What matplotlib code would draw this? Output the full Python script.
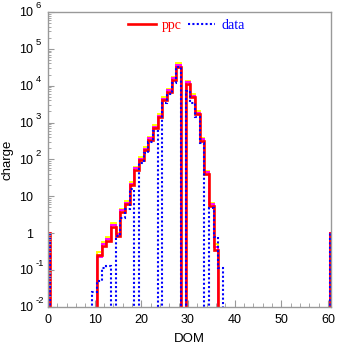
import numpy as np
import matplotlib
matplotlib.use("Agg")
import matplotlib.pyplot as plt

# DOM bins 0..61 (bins centered on integers)
dom = np.arange(0, 62)

ppc = np.zeros(62)
ppc_vals = {0: 1, 11: 0.25, 12: 0.44, 13: 0.62, 14: 1.5, 15: 0.83, 16: 3.8, 17: 6.0,
            18: 20, 19: 52, 20: 95, 21: 180, 22: 340, 23: 700, 24: 1400, 25: 4000,
            26: 6800, 27: 14500, 28: 33000, 30: 11200, 31: 4900, 32: 1700, 33: 320,
            34: 40, 35: 5.5, 36: 0.35, 61: 1}
for k, v in ppc_vals.items():
    ppc[k] = v

ppc_y = np.zeros(62)   # yellow variant
ppc_y_vals = {0: 1, 11: 0.30, 12: 0.56, 13: 0.76, 14: 1.85, 15: 1.0, 16: 4.6, 17: 7.3,
              18: 24, 19: 63, 20: 115, 21: 218, 22: 410, 23: 850, 24: 1700, 25: 4850,
              26: 8200, 27: 17500, 28: 42000, 30: 13600, 31: 5900, 32: 2050, 33: 390,
              34: 49, 35: 6.7, 36: 0.50, 61: 1}
for k, v in ppc_y_vals.items():
    ppc_y[k] = v

ppc_m = np.zeros(62)   # magenta variant
ppc_m_vals = {0: 1, 11: 0.22, 12: 0.49, 13: 0.68, 14: 1.65, 15: 0.92, 16: 4.1, 17: 6.5,
              18: 22, 19: 57, 20: 103, 21: 195, 22: 370, 23: 760, 24: 1520, 25: 4350,
              26: 7400, 27: 15700, 28: 37000, 30: 12200, 31: 5300, 32: 1850, 33: 350,
              34: 44, 35: 6.0, 36: 0.43, 61: 1}
for k, v in ppc_m_vals.items():
    ppc_m[k] = v

data = np.zeros(62)
data_vals = {0: 1, 10: 0.025, 11: 0.05, 12: 0.11, 13: 0.13, 15: 0.85, 16: 2.5, 17: 4.5,
             18: 16, 20: 80, 21: 150, 22: 300, 23: 600, 25: 3300, 26: 6000, 27: 12000,
             28: 33000, 30: 7200, 31: 3300, 32: 1400, 33: 275, 35: 4.7, 36: 0.8,
             37: 0.11, 61: 1}
for k, v in data_vals.items():
    data[k] = v

edges = np.append(dom - 0.5, dom[-1] + 0.5)
FLOOR = 1e-6

def show(v):
    return np.where(v > 0, v, FLOOR)

W, H = 337, 344
fig = plt.figure(figsize=(W / 100, H / 100), dpi=100)
L, R, T, B = 48, 331, 12, 306.7
ax = fig.add_axes([L / W, 1 - B / H, (R - L) / W, (B - T) / H])

ax.stairs(show(ppc_y), edges, color="#ffff00", lw=1.4, baseline=None)
ax.stairs(show(ppc_m), edges, color="#ff00ff", lw=1.4, baseline=None)
ax.stairs(show(ppc), edges, color="#ff0000", lw=1.9, baseline=None, label="ppc")
ax.stairs(show(data), edges, color="#0000ff", lw=1.5, baseline=None,
          linestyle=(0, (1, 1.1)), label="data")

ax.set_yscale("log")
ax.set_ylim(1e-2, 1e6)
ax.set_xlim(0, 60.65)

gray = "#999999"
for s in ax.spines.values():
    s.set_color(gray)
    s.set_linewidth(1.0)

sans = "Liberation Sans"
ax.set_xticks([0, 10, 20, 30, 40, 50, 60])
ax.set_xticks(np.arange(0, 61, 2), minor=True)
ax.set_xticklabels(["0", "10", "20", "30", "40", "50", "60"], family=sans, fontsize=9)

exps = list(range(-2, 7))
ax.set_yticks([10.0 ** e for e in exps])
ylabels = []
for e in exps:
    ylabels.append("1" if e == 0 else "10")
ax.set_yticklabels(ylabels, family=sans, fontsize=9)
ax.yaxis.set_minor_locator(matplotlib.ticker.LogLocator(base=10, subs=np.arange(2, 10)))
ax.yaxis.set_minor_formatter(matplotlib.ticker.NullFormatter())

ax.tick_params(axis="both", which="both", direction="in", color=gray,
               top=False, right=False)
ax.tick_params(axis="y", which="major", length=4, pad=10.5)
ax.tick_params(axis="y", which="minor", length=2.5)
ax.tick_params(axis="x", which="major", length=5, pad=5)
ax.tick_params(axis="x", which="minor", length=3)

for e in exps:
    if e in (0, 1):
        continue
    ax.annotate(str(e), xy=(0, 10.0 ** e), xycoords=("axes fraction", "data"),
                xytext=(-8.8, 4.5), textcoords="offset points",
                ha="left", va="center", family=sans, fontsize=6.8)

ax.set_xlabel("DOM", family=sans, fontsize=9.5, labelpad=5)
ax.set_ylabel("charge", family=sans, fontsize=9.5, labelpad=4)

leg = ax.legend(loc="upper center", bbox_to_anchor=(0.49, 1.005), ncol=2,
                frameon=False, prop={"family": "Liberation Serif", "size": 10},
                handlelength=2.0, handletextpad=0.45, columnspacing=0.4,
                labelcolor="linecolor", borderaxespad=0.2)

fig.savefig("out.png", dpi=100)
